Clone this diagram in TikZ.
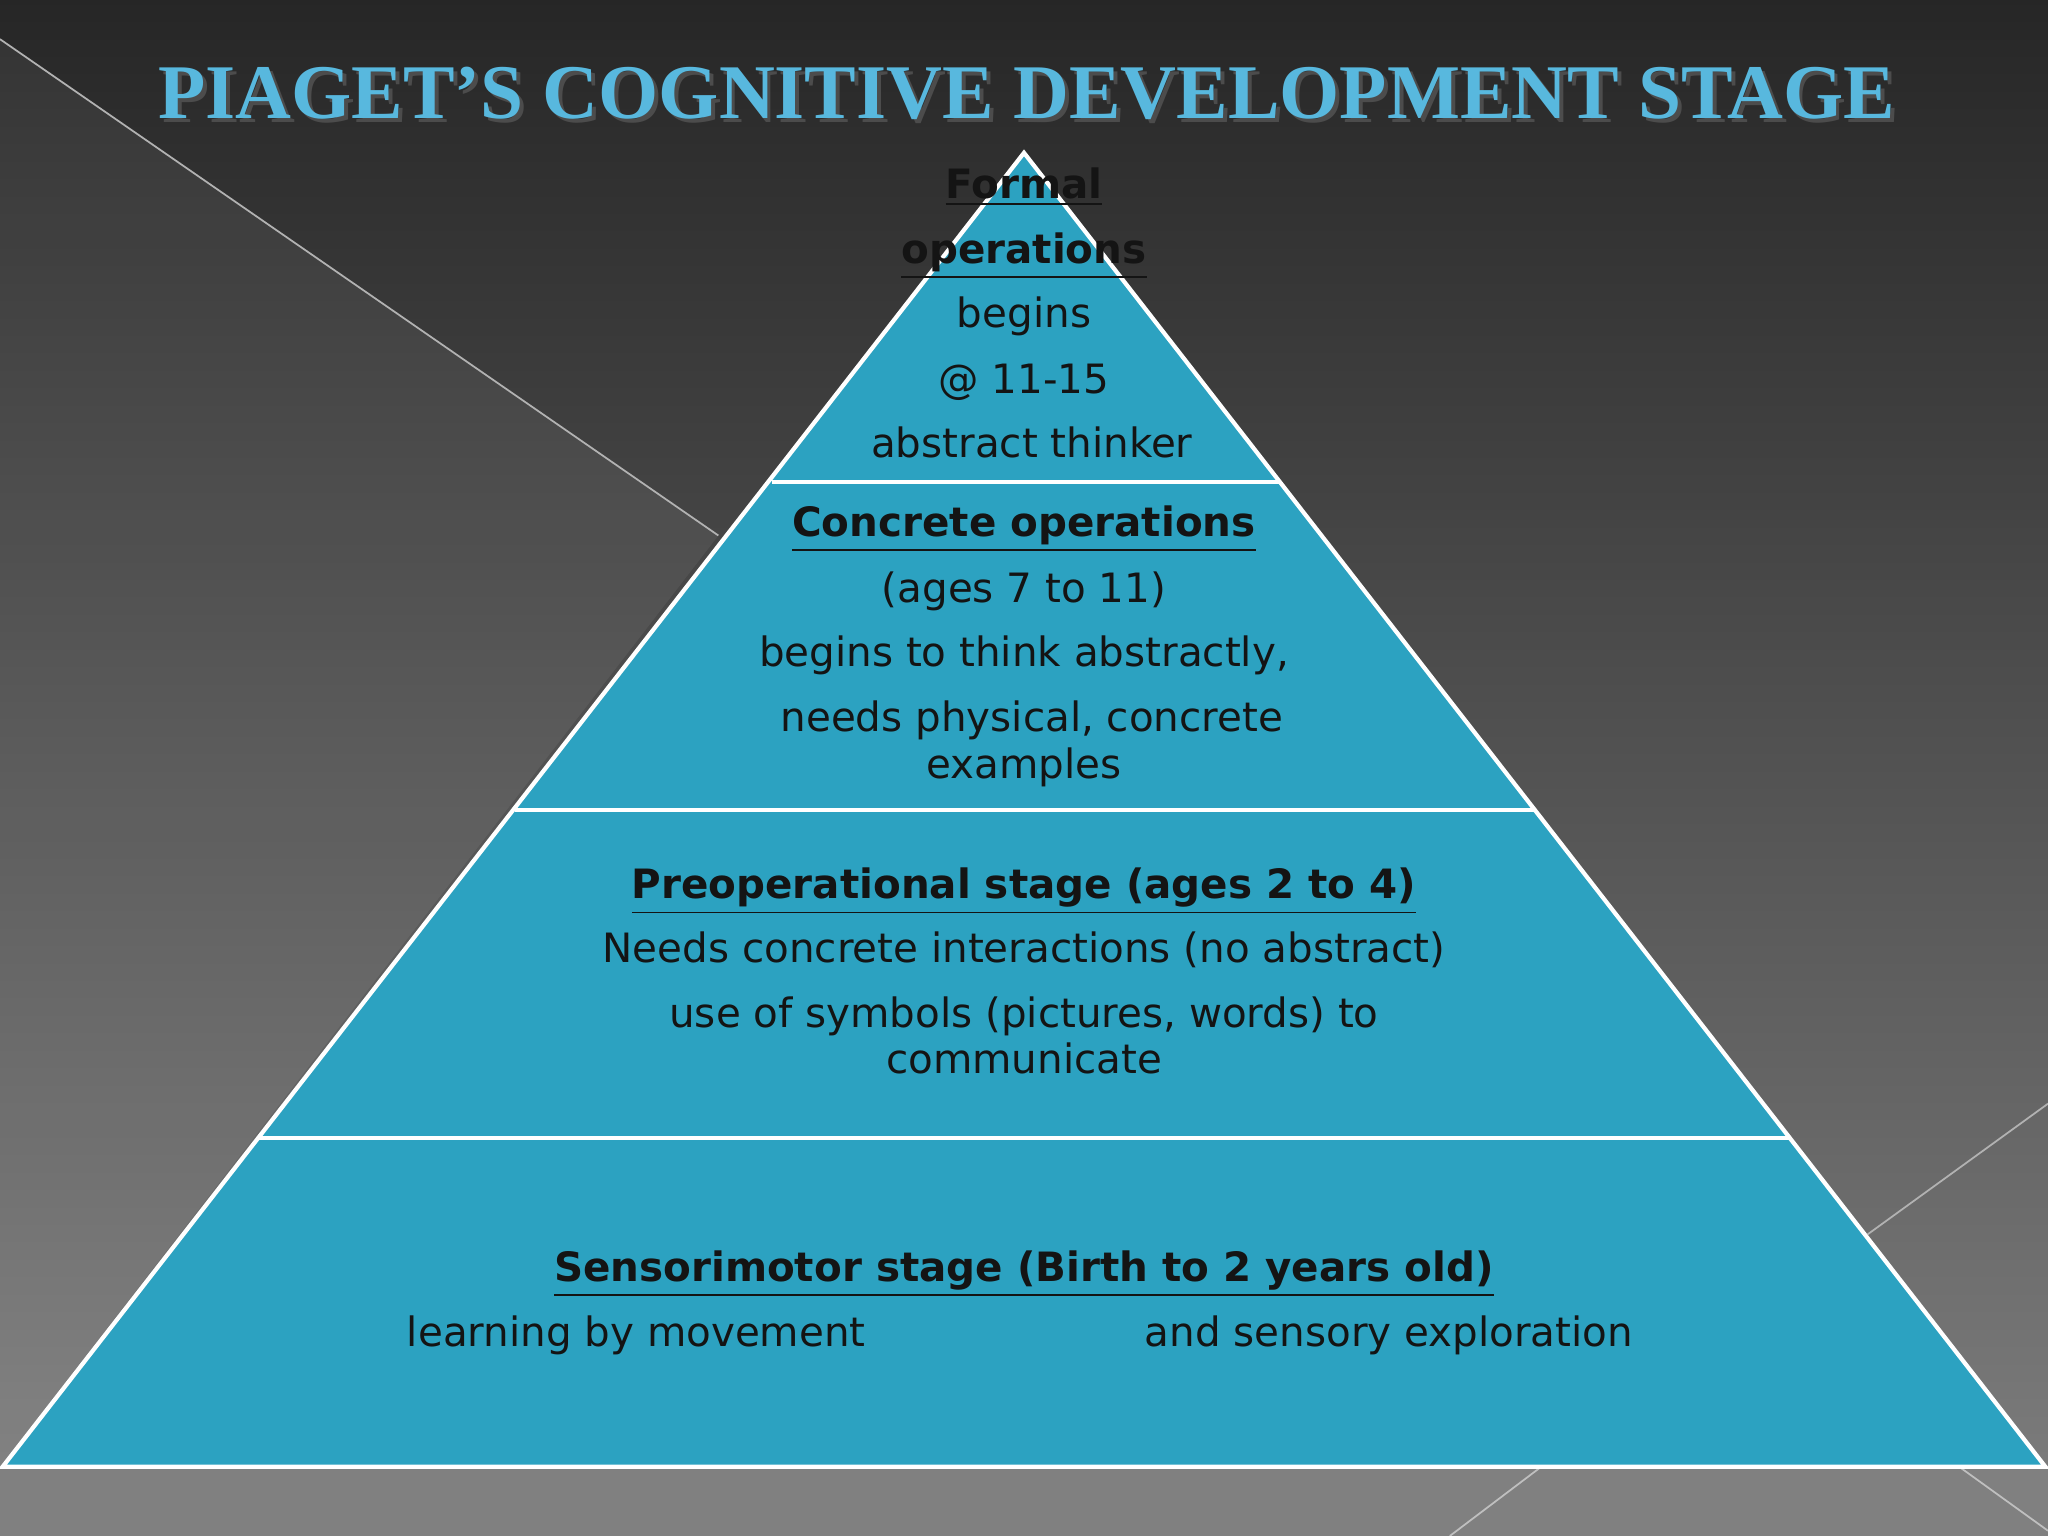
\documentclass[tikz,border=0pt]{standalone}
\usepackage{fontspec}
\setmainfont{DejaVu Sans}
\newfontfamily\ttlfont{Liberation Serif}
\newcommand{\myul}[1]{\underline{#1}}
\definecolor{pyr}{RGB}{44,162,193}
\definecolor{ttl}{RGB}{88,184,222}
\begin{document}
\begin{tikzpicture}[x=0.013061cm,y=-0.013061cm,
  txt/.style={font=\fontsize{11.5}{14}\selectfont,text=black!92,inner sep=0pt,anchor=base},
  hd/.style={txt,font=\fontsize{11.5}{14}\selectfont\bfseries},
  lay/.style={draw=white,line width=1.2pt}]
\useasboundingbox (0,0) rectangle (1568,1176);
\shade[top color=black!85,bottom color=black!52] (0,0) rectangle (1568,1123);
\fill[white,opacity=0.06] (0,30) -- (550,410) -- (0,1123) -- cycle;
\draw[white!70!black,line width=0.5pt] (0,30) -- (550,410);
\draw[white!70!black,line width=0.5pt] (1430,945) -- (1568,845);
\fill[black!50] (0,1123) rectangle (1568,1176);
\draw[white!75!black,line width=0.5pt] (1110,1176) -- (1180,1123);
\draw[white!75!black,line width=0.5pt] (1500,1123) -- (1568,1172);
\node[inner sep=0pt,text=black!70,anchor=base] at (789,94) {\ttlfont\bfseries\fontsize{22}{26}\selectfont PIAGET’S COGNITIVE DEVELOPMENT STAGE};
\node (title) [inner sep=0pt,text=ttl,anchor=base] at (786,91) {\ttlfont\bfseries\fontsize{22}{26}\selectfont PIAGET’S COGNITIVE DEVELOPMENT STAGE};
\coordinate (apex) at (784,117);
\coordinate (bl) at (2,1123);
\coordinate (br) at (1566,1123);
\fill[pyr] (apex) -- (bl) -- (br) -- cycle;
\draw[lay] (apex) -- (bl) -- (br) -- cycle;
\draw[lay] (591,369) -- (979,369);
\draw[lay] (394,620) -- (1175,620);
\draw[lay] (197,871) -- (1371,871);
\node[hd] (f1) at (784,152) {\myul{Formal}};
\node[hd] (f2) at (784,202) {\myul{operations}};
\node[txt] (f3) at (784,251) {begins};
\node[txt] (f4) at (784,301) {@ 11-15};
\node[txt] (f5) at (790,350) {abstract thinker};
\node[hd] (c1) at (784,411) {\myul{Concrete operations}};
\node[txt] (c2) at (784,461) {(ages 7 to 11)};
\node[txt] (c3) at (784,510) {begins to think abstractly,};
\node[txt] (c4) at (790,560) {needs physical, concrete};
\node[txt] (c5) at (784,596) {examples};
\node[hd] (p1) at (784,688) {\myul{Preoperational stage (ages 2 to 4)}};
\node[txt] (p2) at (784,737) {Needs concrete interactions (no abstract)};
\node[txt] (p3) at (784,787) {use of symbols (pictures, words) to};
\node[txt] (p4) at (784,822) {communicate};
\node[hd] (s1) at (784,981) {\myul{Sensorimotor stage (Birth to 2 years old)}};
\node[txt,anchor=base west] (s2) at (311,1031) {learning by movement};
\node[txt,anchor=base west] (s3) at (876,1031) {and sensory exploration};
\end{tikzpicture}
\end{document}
